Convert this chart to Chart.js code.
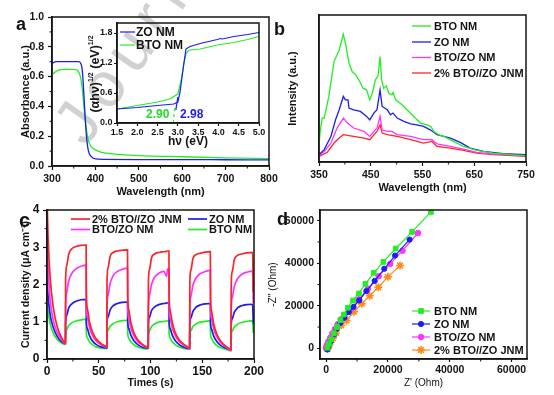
<!DOCTYPE html>
<html>
<head>
<meta charset="utf-8">
<script src="https://cdn.jsdelivr.net/npm/chart.js@4.4.0/dist/chart.umd.min.js"></script>
<style>
  body { margin: 0; background: #fff; width: 554px; height: 395px; overflow: hidden; position: relative;
         font-family: 'Liberation Sans', Arial, Helvetica, sans-serif; }
  canvas { position: absolute; left: 0; top: 0; }
  .lbl { position: absolute; font-weight: bold; color: #141414; white-space: nowrap; line-height: 1; }
  .lbl sup { font-size: 7px; vertical-align: 6px; line-height: 0; }
  #wm { position: absolute; left: 86px; top: 94px; font-size: 64px; line-height: 1; letter-spacing: 10px;
        color: rgba(0,0,0,0.18); white-space: nowrap; transform-origin: 0 54px; transform: rotate(-55deg); }
</style>
</head>
<body>
<div id="wm">Journal Pre-proof</div>
<canvas id="ca" width="554" height="395"></canvas>
<canvas id="ci" width="554" height="395"></canvas>
<canvas id="cb" width="554" height="395"></canvas>
<canvas id="cc" width="554" height="395"></canvas>
<canvas id="cd" width="554" height="395"></canvas>

<div class="lbl" style="left:16px;top:14.8px;font-size:18px">a</div>
<div class="lbl" style="left:274px;top:19.8px;font-size:18px">b</div>
<div class="lbl" style="left:19px;top:210px;font-size:20px">c</div>
<div class="lbl" style="left:277px;top:209.8px;font-size:18px">d</div>
<div class="lbl" style="left:95px;top:74px;font-size:12.5px;transform:translate(-50%,-50%) rotate(-90deg)">(αhν)<sup>1/2</sup> (eV)<sup>1/2</sup></div>
<div class="lbl" style="left:146px;top:107.8px;font-size:12px;color:#22dd22">2.90</div>
<div class="lbl" style="left:180px;top:107.8px;font-size:12px;color:#1c1cf5">2.98</div>

<script>
const W = 554, H = 395;
const FONT = "'Liberation Sans', Arial, Helvetica, sans-serif";
const INK = '#141414';
const GREEN = '#22ee22', BLUE = '#1c1cf5', PINK = '#ff33ff', RED = '#ff2424', ORANGE = '#ff8a1c';

// ---- a: absorbance spectra
const aXTicks = [300, 400, 500, 600, 700, 800];
const aYTicks = [0, 0.2, 0.4, 0.6, 0.8, 1.0];
const aBlueX = [300, 310, 330, 350, 362, 366, 369, 371, 374, 377, 380, 384, 390, 400, 420, 500, 600, 700, 800];
const aBlueY = [0.69, 0.70, 0.70, 0.70, 0.70, 0.69, 0.66, 0.60, 0.45, 0.30, 0.18, 0.10, 0.065, 0.048, 0.045, 0.043, 0.043, 0.042, 0.041];
const aGreenX = [300, 305, 315, 330, 350, 357, 361, 365, 368, 372, 376, 380, 384, 390, 399, 414, 437, 450, 500, 600, 700, 800];
const aGreenY = [0.615, 0.625, 0.644, 0.648, 0.648, 0.645, 0.633, 0.605, 0.56, 0.45, 0.32, 0.23, 0.17, 0.13, 0.11, 0.092, 0.083, 0.078, 0.07, 0.062, 0.055, 0.05];

// ---- a inset: Tauc plot
const iXTicks = [1.5, 2.0, 2.5, 3.0, 3.5, 4.0, 4.5, 5.0];
const iYTicks = [0, 0.6, 1.2, 1.8];
const iBlueX = [1.5, 2.0, 2.5, 2.9, 3.0, 3.05, 3.1, 3.15, 3.2, 3.3, 3.55, 3.97, 4.05, 4.1, 4.38, 4.72, 5.0];
const iBlueY = [0.28, 0.31, 0.35, 0.38, 0.42, 0.6, 0.9, 1.2, 1.48, 1.53, 1.59, 1.67, 1.69, 1.68, 1.73, 1.77, 1.81];
const iGreenX = [1.5, 2.0, 2.5, 2.8, 3.0, 3.05, 3.1, 3.15, 3.2, 3.25, 3.3, 3.55, 3.97, 4.38, 4.72, 5.0];
const iGreenY = [0.28, 0.35, 0.42, 0.48, 0.58, 0.75, 0.95, 1.2, 1.38, 1.44, 1.46, 1.48, 1.56, 1.61, 1.67, 1.73];
const iTanGreenX = [2.885, 2.925], iTanGreenY = [0.0, 0.3];
const iTanBlueX = [2.95, 3.0], iTanBlueY = [0.26, 0.52];

// ---- b: PL spectra (arbitrary intensity)
const bXTicks = [350, 450, 550, 650, 750];
const bGreenX = [350, 352, 356, 360, 369, 379, 389, 397, 401, 408, 414, 421, 427, 435, 442, 448, 453, 459, 464, 468, 471, 475, 480, 485, 491, 493, 498, 507, 520, 533, 546, 559, 566, 572, 581, 591, 610, 629, 655, 687, 719, 750];
const bGreenY = [10.6, 19.7, 29.9, 29.9, 44.6, 68.3, 76.2, 86.9, 80.8, 67.2, 61.5, 59.3, 55.9, 50.2, 49.1, 42.3, 46.8, 55.9, 58.6, 71.7, 55.9, 50.2, 51.8, 46.8, 45.7, 47.3, 42.3, 40, 35.5, 31, 26.5, 25.3, 24.2, 20.8, 18.6, 17.4, 14, 10.6, 7.9, 6.1, 5, 4.3];
const bBlueX = [350, 360, 373, 382, 389, 397, 401, 406, 408, 417, 430, 442, 448, 456, 462, 468, 472, 482, 488, 493, 501, 514, 527, 539, 552, 565, 578, 591, 604, 623, 642, 668, 706, 750];
const bBlueY = [5, 8.4, 17.4, 28.7, 35.5, 44.6, 42.3, 42.3, 36.7, 35.5, 34.4, 31, 28.7, 33.3, 35.5, 49.1, 37.8, 35.5, 32.1, 33.3, 29.9, 27.6, 26, 25.3, 24.2, 21.9, 18.6, 17.4, 16.3, 13.3, 9.5, 7.2, 5.7, 5];
const bPinkX = [350, 360, 373, 385, 397, 405, 417, 437, 448, 462, 468, 472, 482, 491, 501, 527, 552, 568, 578, 604, 629, 655, 687, 750];
const bPinkY = [4.3, 7.2, 12.9, 23.1, 29.9, 26.5, 23.1, 20.8, 17.4, 23.1, 31, 21.9, 20.8, 20.8, 18.6, 17.4, 15.2, 15.2, 12.4, 10.6, 8.8, 6.6, 5.4, 4.5];
const bRedX = [350, 366, 379, 389, 397, 408, 417, 437, 448, 462, 468, 472, 482, 501, 527, 552, 568, 578, 604, 629, 655, 687, 750];
const bRedY = [3.8, 6.6, 12.9, 16.3, 18.6, 17.9, 17.4, 16.3, 15.2, 20.8, 25.3, 19.7, 18.6, 17.4, 15.2, 12.9, 14, 10.6, 9.5, 7.9, 6.1, 5, 3.8];

// ---- c: photocurrent on/off
const cXTicks = [0, 50, 100, 150, 200];
const cYTicks = [0, 1, 2, 3, 4];
const cTimes = [0, 1, 3, 6, 10, 14, 17.8,
  18, 19, 21, 24, 28, 33, 37.8, 38, 39, 41, 44, 48, 53, 57.8,
  58, 59, 61, 64, 68, 73, 77.8, 78, 79, 81, 84, 88, 93, 97.8,
  98, 99, 101, 104, 108, 113, 115.5, 116.5, 117.8, 118, 119, 121, 124, 128, 133, 137.8,
  138, 139, 141, 144, 148, 153, 157.8, 158, 159, 161, 164, 168, 173, 177.8,
  178, 179, 181, 184, 188, 193, 198.6, 199.3];
const cRed = [4.4, 3.3, 2.2, 1.4, 0.85, 0.58, 0.42,
  2.15, 2.5, 2.82, 2.96, 3.02, 3.05, 3.06, 1.75, 1.35, 1.0, 0.72, 0.52, 0.4, 0.33,
  2.1, 2.45, 2.76, 2.86, 2.9, 2.92, 2.93, 1.7, 1.32, 0.98, 0.7, 0.5, 0.38, 0.31,
  2.1, 2.4, 2.72, 2.82, 2.86, 2.88, 2.89, 2.9, 2.9, 1.7, 1.3, 0.98, 0.7, 0.5, 0.38, 0.3,
  2.05, 2.38, 2.7, 2.8, 2.84, 2.87, 2.88, 1.68, 1.28, 0.95, 0.67, 0.47, 0.34, 0.26,
  2.0, 2.35, 2.67, 2.78, 2.82, 2.85, 2.86, 1.8];
const cPink = [3.3, 2.5, 1.6, 1.05, 0.7, 0.52, 0.41,
  1.45, 1.78, 2.1, 2.3, 2.42, 2.49, 2.52, 1.42, 1.12, 0.85, 0.63, 0.47, 0.37, 0.32,
  1.42, 1.72, 2.03, 2.24, 2.35, 2.41, 2.44, 1.4, 1.1, 0.84, 0.62, 0.46, 0.36, 0.3,
  1.4, 1.7, 2.0, 2.2, 2.3, 2.35, 2.22, 2.42, 2.4, 1.4, 1.1, 0.84, 0.62, 0.46, 0.36, 0.29,
  1.38, 1.68, 1.98, 2.18, 2.29, 2.35, 2.38, 1.38, 1.08, 0.82, 0.6, 0.43, 0.32, 0.23,
  1.35, 1.65, 1.95, 2.15, 2.27, 2.33, 2.36, 1.5];
const cBlue = [2.1, 1.7, 1.2, 0.85, 0.6, 0.47, 0.41,
  0.98, 1.17, 1.37, 1.48, 1.55, 1.59, 1.6, 1.0, 0.82, 0.63, 0.48, 0.38, 0.32, 0.3,
  0.96, 1.13, 1.32, 1.43, 1.49, 1.52, 1.53, 1.0, 0.82, 0.64, 0.49, 0.38, 0.31, 0.29,
  0.95, 1.12, 1.3, 1.4, 1.46, 1.49, 1.5, 1.51, 1.51, 1.0, 0.82, 0.64, 0.49, 0.38, 0.31, 0.28,
  0.94, 1.1, 1.28, 1.39, 1.45, 1.48, 1.49, 0.98, 0.8, 0.62, 0.47, 0.36, 0.29, 0.24,
  0.92, 1.08, 1.26, 1.37, 1.43, 1.46, 1.47, 0.95];
const cGreen = [1.6, 1.3, 0.95, 0.7, 0.52, 0.43, 0.39,
  0.66, 0.78, 0.9, 0.97, 1.02, 1.05, 1.07, 0.7, 0.57, 0.46, 0.38, 0.32, 0.29, 0.28,
  0.65, 0.77, 0.88, 0.95, 1.0, 1.03, 1.04, 0.68, 0.56, 0.46, 0.38, 0.32, 0.28, 0.27,
  0.64, 0.76, 0.87, 0.94, 0.99, 1.01, 1.02, 1.03, 1.03, 0.68, 0.56, 0.46, 0.38, 0.32, 0.28, 0.27,
  0.64, 0.76, 0.87, 0.94, 0.99, 1.01, 1.03, 0.67, 0.55, 0.45, 0.36, 0.3, 0.26, 0.22,
  0.62, 0.75, 0.86, 0.93, 0.98, 1.01, 1.03, 0.7];

// ---- d: Nyquist plots (Ohm)
const dTicks = [0, 20000, 40000, 60000];
const dGreenX = [400, 900, 1600, 2500, 3500, 4600, 5700, 7000, 8700, 10600, 12700, 15400, 18500, 22500, 27800, 33900];
const dGreenY = [300, 2000, 4200, 7000, 10000, 13300, 15900, 19100, 22500, 25800, 30300, 35500, 40600, 46900, 54700, 64100];
const dBlueX = [400, 900, 1600, 2600, 3500, 4600, 5900, 7300, 8850, 10700, 13000, 15700, 18800, 22300, 27000];
const dBlueY = [-500, 1200, 3500, 6500, 9200, 12000, 14400, 17000, 19500, 22500, 26900, 31700, 37400, 43600, 51100];
const dPinkX = [-100, 200, 700, 1300, 2000, 2800, 3700, 4800, 5900, 7900, 10600, 13500, 17000, 20700, 24700, 29700];
const dPinkY = [300, 1500, 3200, 5000, 7000, 9000, 11300, 13600, 15200, 18300, 23000, 28000, 33900, 39700, 45900, 54200];
const dOrangeX = [400, 800, 1400, 2200, 3200, 4900, 6600, 9000, 11500, 14100, 16900, 19950, 23900];
const dOrangeY = [-300, 1000, 2800, 4800, 7200, 10800, 13100, 17200, 20900, 24700, 28700, 33600, 38900];

// per-canvas extras: legend placement and minor ticks
const extras = {};

function drawMarker(ctx, ds, x, y) {
  if (Chart.helpers && Chart.helpers.drawPoint) {
    ctx.fillStyle = ds.pointBackgroundColor || ds.borderColor;
    ctx.strokeStyle = ds.borderColor;
    ctx.lineWidth = ds.pointBorderWidth || 1;
    Chart.helpers.drawPoint(ctx, { pointStyle: ds.pointStyle, radius: ds.pointRadius, rotation: 0, borderWidth: ds.pointBorderWidth || 1 }, x, y);
  }
}

const framePlugin = {
  id: 'frame',
  afterDatasetsDraw(chart) {
    const c = chart.ctx, a = chart.chartArea;
    const ex = extras[chart.canvas.id] || {};
    c.save();
    c.strokeStyle = INK;
    c.lineWidth = 1.5;
    c.strokeRect(a.left, a.top, a.right - a.left, a.bottom - a.top);
    c.lineWidth = 1;
    (ex.minorX || []).forEach(v => {
      const px = chart.scales.x.getPixelForValue(v);
      c.beginPath(); c.moveTo(px, a.bottom); c.lineTo(px, a.bottom + 2.5); c.stroke();
    });
    (ex.minorY || []).forEach(v => {
      const py = chart.scales.y.getPixelForValue(v);
      c.beginPath(); c.moveTo(a.left, py); c.lineTo(a.left - 2.5, py); c.stroke();
    });
    c.restore();
  },
  afterDraw(chart) {
    const key = (extras[chart.canvas.id] || {}).key;
    if (!key) return;
    const c = chart.ctx;
    c.save();
    c.font = key.font;
    c.textBaseline = 'middle';
    key.items.forEach(it => {
      const ds = chart.data.datasets[it.ds];
      c.strokeStyle = ds.borderColor;
      c.lineWidth = ds.borderWidth;
      c.beginPath(); c.moveTo(it.x, it.y); c.lineTo(it.x + key.len, it.y); c.stroke();
      if (ds.pointRadius) drawMarker(c, ds, it.x + key.len / 2, it.y);
      c.fillStyle = INK;
      c.fillText(ds.label, it.x + key.len + key.gap, it.y + 0.5);
    });
    c.restore();
  }
};

function axis(o) {
  return {
    type: 'linear', min: o.min, max: o.max,
    afterBuildTicks: s => { s.ticks = o.ticks.map(v => ({ value: v })); },
    afterFit: s => { if (s.isHorizontal()) s.height = o.size; else s.width = o.size; },
    ticks: {
      display: o.ticks.length > 0, autoSkip: false, maxRotation: 0, minRotation: 0,
      padding: o.pad || 0, color: INK,
      font: { family: FONT, size: o.font || 10.5, weight: 'bold' },
      callback: v => o.fmt ? o.fmt(v) : String(v)
    },
    grid: { drawOnChartArea: false, drawTicks: (o.tl || 0) > 0, tickLength: o.tl || 0, tickColor: INK, tickWidth: 1.2 },
    border: { color: INK, width: 1.5 },
    title: {
      display: !!o.title, text: o.title || '', padding: 0, color: INK,
      font: { family: FONT, size: o.tsize || 11, weight: o.tweight || 'bold' }
    }
  };
}

function series(label, color, xs, ys, more) {
  return Object.assign({
    label: label, data: xs.map((x, i) => ({ x: x, y: ys[i] })),
    borderColor: color, backgroundColor: color, borderWidth: 1.3,
    pointRadius: 0, tension: 0, fill: false
  }, more || {});
}

function makeChart(id, box, xa, ya, datasets) {
  return new Chart(document.getElementById(id), {
    type: 'line',
    data: { datasets: datasets },
    options: {
      responsive: false, animation: false, devicePixelRatio: 1,
      layout: { padding: { left: box.l - ya.size, top: box.t, right: W - box.r, bottom: H - box.b - xa.size } },
      plugins: { legend: { display: false }, tooltip: { enabled: false } },
      scales: { x: axis(xa), y: axis(ya) }
    },
    plugins: [framePlugin]
  });
}

const fix1 = v => v.toFixed(1);
const smooth = { cubicInterpolationMode: 'monotone' };

// a
extras.ca = { minorX: [350, 450, 550, 650, 750], minorY: [0.1, 0.3, 0.5, 0.7, 0.9] };
makeChart('ca', { l: 52, t: 17, r: 269, b: 166 },
  { min: 300, max: 800, ticks: aXTicks, size: 33, pad: 3, tl: 4, font: 10.5, title: 'Wavelength (nm)' },
  { min: 0, max: 1, ticks: aYTicks, size: 33, pad: 4, tl: 4, font: 10.5, fmt: fix1, title: 'Absorbance (a.u.)' },
  [series('ZO NM', BLUE, aBlueX, aBlueY, smooth), series('BTO NM', GREEN, aGreenX, aGreenY, smooth)]);

// a inset
extras.ci = { key: { font: 'bold 12px ' + FONT, len: 15, gap: 1, items: [{ ds: 0, x: 120, y: 32 }, { ds: 1, x: 120, y: 45 }] } };
makeChart('ci', { l: 117, t: 23, r: 259, b: 123 },
  { min: 1.5, max: 5.0, ticks: iXTicks, size: 26, pad: 1, tl: 3, font: 9, fmt: fix1, title: 'hν (eV)', tsize: 12 },
  { min: 0, max: 2.0, ticks: iYTicks, size: 30, pad: 1.5, tl: 3, font: 9, fmt: fix1 },
  [series('ZO NM', BLUE, iBlueX, iBlueY, { borderWidth: 1.2 }),
   series('BTO NM', GREEN, iGreenX, iGreenY, { borderWidth: 1.2 }),
   series('', GREEN, iTanGreenX, iTanGreenY, { borderWidth: 1.2, borderDash: [3, 3] }),
   series('', BLUE, iTanBlueX, iTanBlueY, { borderWidth: 1.2 })]);

// b
extras.cb = { minorX: [400, 500, 600, 700], key: { font: 'bold 11px ' + FONT, len: 19, gap: 3,
  items: [{ ds: 0, x: 412, y: 26 }, { ds: 1, x: 412, y: 42 }, { ds: 2, x: 412, y: 57.5 }, { ds: 3, x: 412, y: 73 }] } };
makeChart('cb', { l: 319, t: 15, r: 526, b: 162 },
  { min: 350, max: 750, ticks: bXTicks, size: 33, pad: 3, tl: 4, font: 10.5, title: 'Wavelength (nm)' },
  { min: 0, max: 100, ticks: [], size: 33, title: 'Intensity (a.u.)' },
  [series('BTO NM', GREEN, bGreenX, bGreenY), series('ZO NM', BLUE, bBlueX, bBlueY),
   series('BTO/ZO NM', PINK, bPinkX, bPinkY), series('2% BTO//ZO JNM', RED, bRedX, bRedY)]);

// c
extras.cc = { minorX: [25, 75, 125, 175], minorY: [0.5, 1.5, 2.5, 3.5], key: { font: 'bold 11px ' + FONT, len: 19, gap: 2,
  items: [{ ds: 0, x: 71, y: 219 }, { ds: 1, x: 71, y: 229.5 }, { ds: 2, x: 188, y: 219 }, { ds: 3, x: 188, y: 229.5 }] } };
const cLine = { borderWidth: 1.7, cubicInterpolationMode: 'monotone' };
makeChart('cc', { l: 47, t: 210, r: 254, b: 359 },
  { min: 0, max: 200, ticks: cXTicks, size: 30, pad: 1.5, tl: 4, font: 12, title: 'Times (s)', tsize: 10.5 },
  { min: 0, max: 4, ticks: cYTicks, size: 27, pad: 3.5, tl: 4, font: 12, title: 'Current density (μA cm⁻²)', tsize: 10.5 },
  [series('2% BTO//ZO JNM', RED, cTimes, cRed, cLine), series('BTO/ZO NM', PINK, cTimes, cPink, cLine),
   series('ZO NM', BLUE, cTimes, cBlue, cLine), series('BTO NM', GREEN, cTimes, cGreen, cLine)]);

// d
extras.cd = { minorX: [10000, 30000, 50000], minorY: [10000, 30000, 50000], key: { font: 'bold 11px ' + FONT, len: 18, gap: 4,
  items: [{ ds: 0, x: 412, y: 311 }, { ds: 1, x: 412, y: 324 }, { ds: 2, x: 412, y: 337 }, { ds: 3, x: 412, y: 350 }] } };
const mk = (style, r, bw) => ({ borderWidth: 1.2, pointStyle: style, pointRadius: r, pointBorderWidth: bw || 1 });
makeChart('cd', { l: 320, t: 210, r: 527, b: 359 },
  { min: -2000, max: 65000, ticks: dTicks, size: 30, pad: 2, tl: 3, font: 10.5, title: "Z' (Ohm)", tsize: 10, tweight: 'normal' },
  { min: -5000, max: 65000, ticks: dTicks, size: 53, pad: 3, tl: 3, font: 10.5, title: "-Z'' (Ohm)", tsize: 10, tweight: 'normal' },
  [series('BTO NM', GREEN, dGreenX, dGreenY, mk('rect', 3.3)),
   series('ZO NM', BLUE, dBlueX, dBlueY, mk('circle', 2.6)),
   series('BTO/ZO NM', PINK, dPinkX, dPinkY, mk('circle', 2.8)),
   series('2% BTO//ZO JNM', ORANGE, dOrangeX, dOrangeY, mk('star', 4, 1.6))]);
</script>
</body>
</html>
